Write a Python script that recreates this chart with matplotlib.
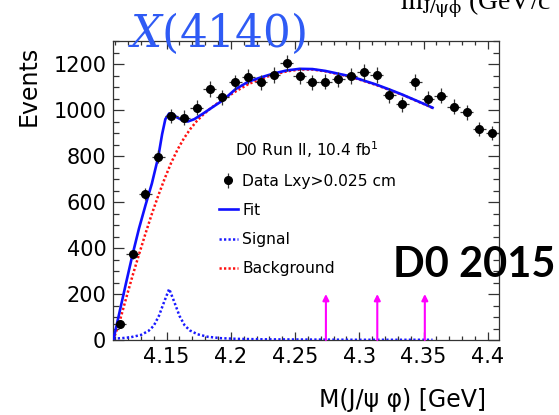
import matplotlib
matplotlib.use('Agg')
import matplotlib.pyplot as plt
from matplotlib.ticker import MultipleLocator, FormatStrFormatter
from matplotlib.lines import Line2D
import numpy as np

# J/psi phi invariant mass spectrum, 10 MeV bins
mass = [4.1135, 4.1235, 4.1335, 4.1435, 4.1535, 4.1635, 4.1735, 4.1835, 4.1935, 4.2035,
        4.2135, 4.2235, 4.2335, 4.2435, 4.2535, 4.2635, 4.2735, 4.2835, 4.2935, 4.3035,
        4.3135, 4.3235, 4.3335, 4.3435, 4.3535, 4.3635, 4.3735, 4.3835, 4.3935, 4.4035]
events = [69, 372, 635, 797, 975, 967, 1010, 1091, 1055, 1120,
          1145, 1120, 1153, 1203, 1149, 1120, 1123, 1133, 1148, 1164,
          1152, 1065, 1025, 1122, 1049, 1061, 1014, 990, 917, 899]
half_bin = 0.005

# total fit
fit_m = [4.1085, 4.1135, 4.1185, 4.1235, 4.1285, 4.1335, 4.1385, 4.1435, 4.1465, 4.149,
         4.152, 4.1545, 4.158, 4.1625, 4.1665, 4.1715, 4.1785, 4.1865, 4.194, 4.2035,
         4.2135, 4.2235, 4.2335, 4.2435, 4.2535, 4.2635, 4.2735, 4.2835, 4.2935, 4.3035,
         4.3135, 4.3235, 4.3335, 4.3435, 4.3535, 4.357]
fit = [0, 125, 250, 372, 485, 585, 680, 796, 895, 960,
       985, 984, 968, 955, 950, 960, 985, 1015, 1043, 1090,
       1123, 1142, 1159, 1172, 1179, 1178, 1170, 1158, 1146, 1128,
       1110, 1089, 1067, 1043, 1019, 1010]

# signal component
sig_m = [4.1085, 4.115, 4.122, 4.130, 4.136, 4.140, 4.144, 4.148, 4.152, 4.156,
         4.160, 4.164, 4.168, 4.174, 4.182, 4.192, 4.205, 4.225, 4.26, 4.30, 4.357]
sig = [6, 8, 12, 22, 40, 62, 105, 165, 222, 165,
       105, 64, 42, 25, 14, 8, 5, 3, 2, 1, 1]

# background component
bkg_m = [4.1085, 4.1135, 4.1185, 4.1235, 4.1285, 4.1335, 4.1385, 4.1435, 4.1485, 4.1535,
         4.1585, 4.1635, 4.1685, 4.1735, 4.1785, 4.1835, 4.1885, 4.1935, 4.2035, 4.2135,
         4.2235, 4.2335, 4.2435, 4.2535, 4.2635, 4.2735, 4.2835, 4.2935, 4.3035, 4.3135,
         4.3235, 4.3335, 4.3435, 4.3535, 4.357]
bkg = [0, 82, 182, 280, 372, 462, 548, 628, 702, 770,
       828, 877, 918, 952, 980, 1004, 1025, 1043, 1080, 1112,
       1136, 1154, 1168, 1176, 1176, 1168, 1156, 1144, 1126, 1108,
       1087, 1066, 1042, 1018, 1009]

# other candidate states
arrow_m = [4.274, 4.314, 4.351]
arrow_top = 200

fig = plt.figure(figsize=(5.59, 4.15), dpi=100)
ax = fig.add_axes([0.2027, 0.1807, 0.6894, 0.7205])

ax.errorbar(mass, events, yerr=np.sqrt(events), xerr=half_bin, fmt='o', color='k',
            ms=5.5, elinewidth=0.9, ecolor='#333333', capsize=0, zorder=5)
ax.plot(fit_m, fit, color='#1010ff', lw=1.9, zorder=4)
ax.plot(sig_m, sig, color='#1a1aff', lw=1.8, ls=(0, (0.9, 0.9)), zorder=3)
ax.plot(bkg_m, bkg, color='#ff1010', lw=1.8, ls=(0, (0.9, 0.9)), zorder=3)

for m in arrow_m:
    ax.annotate('', xy=(m, arrow_top), xytext=(m, 0),
                arrowprops=dict(arrowstyle='-|>', color='#ff00ff', lw=1.5,
                                mutation_scale=9, shrinkA=0, shrinkB=0))

ax.set_xlim(4.1085, 4.4085)
ax.set_ylim(0, 1300)
ax.xaxis.set_major_locator(MultipleLocator(0.05))
ax.xaxis.set_minor_locator(MultipleLocator(0.01))
ax.xaxis.set_major_formatter(FormatStrFormatter('%g'))
ax.yaxis.set_major_locator(MultipleLocator(200))
ax.yaxis.set_minor_locator(MultipleLocator(50))
ax.tick_params(which='both', direction='in', top=True, right=True, colors='#333333',
               labelcolor='k', labelsize=15)
ax.tick_params(axis='x', which='major', length=6, width=0.9, pad=5)
ax.tick_params(axis='x', which='minor', length=3, width=0.9)
ax.tick_params(axis='y', which='major', length=8, width=0.9, pad=5)
ax.tick_params(axis='y', which='minor', length=4, width=0.9)
for s in ax.spines.values():
    s.set_color('#333333')
    s.set_linewidth(0.9)

ax.set_ylabel('Events', fontsize=17, loc='top')
ax.yaxis.set_label_coords(-0.1876, 0.983)
ax.set_xlabel('M(J/ψ φ) [GeV]', fontsize=17, loc='right')
ax.xaxis.set_label_coords(0.967, -0.16)

ax.text(0.315, 0.635, 'D0 Run II, 10.4 fb$^{\\mathregular{1}}$', transform=ax.transAxes,
        fontsize=11.2, va='center', ha='left')

# legend glyph for the data: marker with vertical error bar only
data_handle = ax.errorbar([], [], yerr=[], fmt='o', color='k', ms=5.5,
                          elinewidth=0.9, ecolor='#333333', capsize=0)
handles = [
    data_handle,
    Line2D([], [], color='#1010ff', lw=1.9),
    Line2D([], [], color='#1a1aff', lw=1.8, ls=(0, (0.9, 0.9))),
    Line2D([], [], color='#ff1010', lw=1.8, ls=(0, (0.9, 0.9))),
]
labels = ['Data Lxy>0.025 cm', 'Fit', 'Signal', 'Background']
ax.legend(handles, labels, loc='upper left', bbox_to_anchor=(0.274, 0.556),
          frameon=False, fontsize=11.2, handlelength=1.2, handletextpad=0.3,
          labelspacing=0.91, borderpad=0, borderaxespad=0)

fig.text(0.229, 0.8867, '$X$(4140)', fontsize=31.5, color='#2f5bf5',
         math_fontfamily='dejavuserif', family='DejaVu Serif', va='baseline')
fig.text(0.716, 0.975, r'$\mathrm{m}_{\mathrm{J/\psi\phi}}$ (GeV/c$^2$)', fontsize=20,
         math_fontfamily='stix', family='Liberation Serif', va='baseline')
fig.text(0.703, 0.3325, 'D0 2015', fontsize=30, family='Lato', weight='bold',
         va='baseline')

fig.savefig('out.png', dpi=100)
